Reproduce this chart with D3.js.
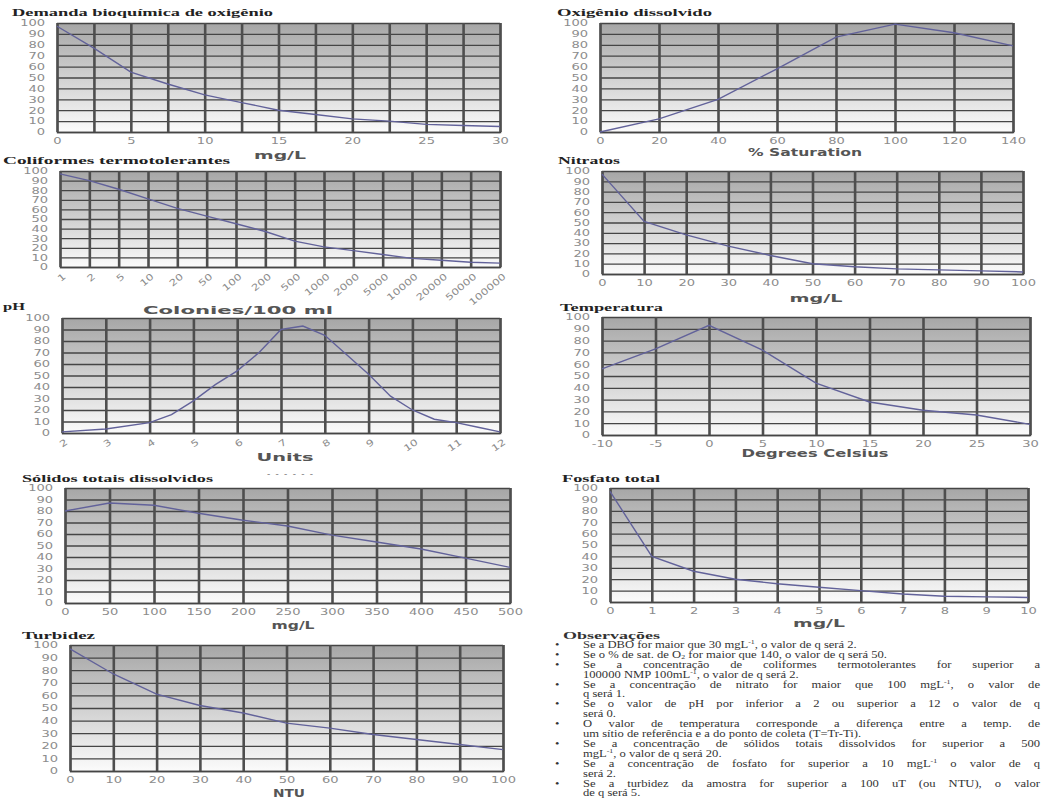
<!DOCTYPE html>
<html>
<head>
<meta charset="utf-8">
<script src="https://cdn.jsdelivr.net/npm/d3@7"></script>
<style>
  body { margin: 0; background: #fff; }
  svg { display: block; }
</style>
</head>
<body>
<svg id="chart" width="1042" height="802"></svg>
<script>
// q-value curves
const yTicks = [0, 10, 20, 30, 40, 50, 60, 70, 80, 90, 100];

const bodX = [0, 2.5, 5, 7.5, 10, 12.5, 15, 17.5, 20, 22.5, 25, 27.5, 30];
const bodQ = [97, 77, 55, 44, 34, 27, 20, 16, 12, 10, 7, 6, 5];
const bodLabels = [0, 5, 10, 15, 20, 25, 30];

const odX = [0, 20, 40, 60, 80, 100, 120, 140];
const odQ = [0, 12, 30, 58, 87, 99, 91, 79];

const coliCats = ['1', '2', '5', '10', '20', '50', '100', '200', '500', '1000', '2000', '5000', '10000', '20000', '50000', '100000'];
const coliQ = [97, 90, 81, 71, 61, 53, 45, 37, 27, 21, 17, 13, 9, 7, 5, 4];

const nitX = [0, 10, 20, 30, 40, 50, 60, 70, 80, 90, 100];
const nitQ = [97, 51, 38, 27, 18, 10, 7, 5, 4, 3, 2];

const phTicks = [2, 3, 4, 5, 6, 7, 8, 9, 10, 11, 12];
const phX = [2, 3, 4, 4.5, 5, 5.5, 6, 6.5, 7, 7.5, 8, 8.5, 9, 9.5, 10, 10.5, 11, 11.5, 12];
const phQ = [1, 3.5, 9, 16, 28, 42, 54, 70, 90, 93, 85, 68, 51, 32, 20, 12, 9, 5, 1];

const tempX = [-10, -5, 0, 5, 10, 15, 20, 25, 30];
const tempQ = [56, 73, 93, 72, 44, 28, 21, 17, 9];

const solX = [0, 50, 100, 150, 200, 250, 300, 350, 400, 450, 500];
const solQ = [80, 87, 85, 78, 72, 67, 59, 53, 47, 39, 31];

const fosX = [0, 1, 2, 3, 4, 5, 6, 7, 8, 9, 10];
const fosQ = [97, 40, 27, 20, 16, 13, 10, 7, 5, 4.5, 4];

const turX = [0, 10, 20, 30, 40, 50, 60, 70, 80, 90, 100];
const turQ = [97, 77, 61, 52, 46, 38, 34, 29, 25, 21, 17];

const obsLines = [
  { t: 'Se a DBO for maior que 30 mgL^-1^, o valor de q será 2.', b: true },
  { t: 'Se o % de sat. de O_2_ for maior que 140, o valor de q será 50.', b: true },
  { t: 'Se a concentração de coliformes termotolerantes for superior a', b: true, j: true },
  { t: '100000 NMP 100mL^-1^, o valor de q será 2.' },
  { t: 'Se a concentração de nitrato for maior que 100 mgL^-1^, o valor de', b: true, j: true },
  { t: 'q será 1.' },
  { t: 'Se o valor de pH por inferior a 2 ou superior a 12 o valor de q', b: true, j: true },
  { t: 'será 0.' },
  { t: 'O valor de temperatura corresponde a diferença entre a temp. de', b: true, j: true },
  { t: 'um sítio de referência e a do ponto de coleta (T=Tr-Ti).' },
  { t: 'Se a concentração de sólidos totais dissolvidos for superior a 500', b: true, j: true },
  { t: 'mgL^-1^, o valor de q será 20.' },
  { t: 'Se a concentração de fosfato for superior a 10 mgL^-1^ o valor de q', b: true, j: true },
  { t: 'será 2.' },
  { t: 'Se a turbidez da amostra for superior a 100 uT (ou NTU), o valor', b: true, j: true },
  { t: 'de q será 5.' }
];

const svg = d3.select('#chart');

// plot background: dark grey at top fading to white
const grad = svg.append('defs').append('linearGradient')
    .attr('id', 'bg')
    .attr('x1', 0).attr('y1', 0).attr('x2', 0).attr('y2', 1);
grad.append('stop').attr('offset', '0%').attr('stop-color', '#a6a6a6');
grad.append('stop').attr('offset', '100%').attr('stop-color', '#fbfbfb');

// the source image is stretched sideways, so the small texts are too
const stretch = 1.45;

let buildPanel = function(cfg) {
    const b = cfg.box;
    let x;
    if (cfg.cats) {
        x = d3.scalePoint().domain(cfg.cats).range([b.left, b.right]);
    } else {
        x = d3.scaleLinear().domain(d3.extent(cfg.grid)).range([b.left, b.right]);
    }
    const y = d3.scaleLinear().domain([0, 100]).range([b.bottom, b.top]);

    const g = svg.append('g');

    g.append('rect')
        .attr('x', b.left).attr('y', b.top)
        .attr('width', b.right - b.left).attr('height', b.bottom - b.top)
        .attr('fill', 'url(#bg)');

    // horizontal grid + y labels
    const ya = g.append('g')
        .attr('transform', `translate(${b.left},0)`)
        .call(d3.axisLeft(y).tickValues(yTicks).tickSize(-(b.right - b.left)));
    ya.select('.domain').remove();
    ya.selectAll('line').attr('stroke', '#454545').attr('stroke-width', 1.3);
    ya.selectAll('.tick text')
        .attr('x', 0)
        .attr('transform', `translate(-12,0) scale(${stretch},1)`);

    // vertical grid + x labels
    const labelSet = cfg.labels ? new Set(cfg.labels) : null;
    const xa = g.append('g')
        .attr('transform', `translate(0,${b.bottom})`)
        .call(d3.axisBottom(x)
            .tickValues(cfg.cats ? cfg.cats : cfg.grid)
            .tickSize(-(b.bottom - b.top))
            .tickPadding(6)
            .tickFormat(d => (!labelSet || labelSet.has(d)) ? d : ''));
    xa.select('.domain').attr('stroke', '#454545').attr('stroke-width', 1.5);
    xa.selectAll('line').attr('stroke', '#4e4e4e').attr('stroke-width', 2.6);

    if (cfg.rotate) {
        xa.selectAll('.tick text')
            .attr('text-anchor', 'end')
            .attr('x', 0).attr('y', 0).attr('dy', '0.35em')
            .attr('transform', `translate(4,8) rotate(${cfg.rotate}) scale(1.3,1)`);
    } else {
        xa.selectAll('.tick text')
            .attr('x', 0)
            .attr('transform', `scale(${stretch},1)`);
    }

    [ya, xa].forEach(a => a.selectAll('.tick text')
        .attr('fill', '#8c8c8c')
        .attr('font-family', 'DejaVu Sans, sans-serif')
        .attr('font-size', 9));

    // the curve
    const pts = cfg.qs.map((q, i) => [cfg.cats ? cfg.cats[i] : cfg.xs[i], q]);
    g.append('path')
        .datum(pts)
        .attr('fill', 'none')
        .attr('stroke', '#62629a')
        .attr('stroke-width', 1.4)
        .attr('d', d3.line().x(d => x(d[0])).y(d => y(d[1])));

    // title
    g.append('text')
        .attr('x', cfg.title.x).attr('y', cfg.title.y)
        .attr('font-family', 'Liberation Serif, serif')
        .attr('font-weight', 'bold')
        .attr('font-size', 11)
        .attr('fill', '#222')
        .attr('textLength', cfg.title.w)
        .attr('lengthAdjust', 'spacingAndGlyphs')
        .text(cfg.title.text);

    // axis title
    g.append('text')
        .attr('x', cfg.axis.x - cfg.axis.w / 2).attr('y', cfg.axis.y)
        .attr('font-family', 'DejaVu Sans, sans-serif')
        .attr('font-weight', 'bold')
        .attr('font-size', 10)
        .attr('fill', '#555')
        .attr('textLength', cfg.axis.w)
        .attr('lengthAdjust', 'spacingAndGlyphs')
        .text(cfg.axis.text);
}

buildPanel({ box: { left: 57, right: 500, top: 23, bottom: 132 }, grid: bodX, labels: bodLabels, xs: bodX, qs: bodQ,
    title: { text: 'Demanda bioquímica de oxigênio', x: 12, y: 16, w: 261 },
    axis: { text: 'mg/L', x: 280, y: 159, w: 52 } });

buildPanel({ box: { left: 600, right: 1013, top: 23, bottom: 132 }, grid: odX, xs: odX, qs: odQ,
    title: { text: 'Oxigênio dissolvido', x: 557, y: 16, w: 155 },
    axis: { text: '% Saturation', x: 805, y: 156, w: 114 } });

buildPanel({ box: { left: 60, right: 500, top: 171, bottom: 267 }, cats: coliCats, qs: coliQ, rotate: -40,
    title: { text: 'Coliformes termotolerantes', x: 3, y: 164, w: 227 },
    axis: { text: 'Colonies/100 ml', x: 238, y: 314, w: 190 } });

buildPanel({ box: { left: 602, right: 1023, top: 171, bottom: 274 }, grid: nitX, xs: nitX, qs: nitQ,
    title: { text: 'Nitratos', x: 558, y: 164, w: 62 },
    axis: { text: 'mg/L', x: 816, y: 302, w: 53 } });

buildPanel({ box: { left: 62, right: 500, top: 318, bottom: 433 }, grid: phTicks, xs: phX, qs: phQ, rotate: -35,
    title: { text: 'pH', x: 3, y: 310, w: 22 },
    axis: { text: 'Units', x: 285, y: 461, w: 57 } });

buildPanel({ box: { left: 602, right: 1030, top: 317, bottom: 435 }, grid: tempX, xs: tempX, qs: tempQ,
    title: { text: 'Temperatura', x: 560, y: 311, w: 103 },
    axis: { text: 'Degrees Celsius', x: 815, y: 457, w: 147 } });

buildPanel({ box: { left: 65, right: 510, top: 488, bottom: 603 }, grid: solX, xs: solX, qs: solQ,
    title: { text: 'Sólidos totais dissolvidos', x: 22, y: 482, w: 191 },
    axis: { text: 'mg/L', x: 293, y: 629, w: 43 } });

buildPanel({ box: { left: 610, right: 1028, top: 488, bottom: 602 }, grid: fosX, xs: fosX, qs: fosQ,
    title: { text: 'Fosfato total', x: 562, y: 482, w: 98 },
    axis: { text: 'mg/L', x: 819, y: 627, w: 52 } });

buildPanel({ box: { left: 70, right: 503, top: 645, bottom: 771 }, grid: turX, xs: turX, qs: turQ,
    title: { text: 'Turbidez', x: 22, y: 639, w: 73 },
    axis: { text: 'NTU', x: 289, y: 797, w: 32 } });

// stray dashes under the pH chart
svg.append('text')
    .attr('x', 290).attr('y', 477)
    .attr('text-anchor', 'middle')
    .attr('font-family', 'DejaVu Sans, sans-serif')
    .attr('font-size', 9)
    .attr('fill', '#777')
    .attr('textLength', 46)
    .text('------');

// notes block, drawn narrow then stretched sideways like the source
const obsScale = 1.2;
const obsLeft = 583, obsRight = 1040;
const obs = svg.append('g')
    .attr('transform', `translate(${obsLeft},0) scale(${obsScale},1)`)
    .attr('font-family', 'Liberation Serif, serif')
    .attr('fill', '#333');

obs.append('text')
    .attr('x', (563 - obsLeft) / obsScale).attr('y', 639)
    .attr('font-weight', 'bold')
    .attr('font-size', 10.5)
    .attr('textLength', 97 / obsScale)
    .attr('lengthAdjust', 'spacingAndGlyphs')
    .text('Observações');

let addRichText = function(sel, str) {
    // ^..^ superscript, _.._ subscript
    const parts = str.split(/(\^[^^]*\^|_[^_]*_)/);
    let back = 0;
    parts.forEach(p => {
        if (!p) return;
        if (p[0] === '^') {
            sel.append('tspan').attr('dy', -3.5 - back).attr('font-size', 6.5).text(p.slice(1, -1));
            back = -3.5;
        } else if (p[0] === '_') {
            sel.append('tspan').attr('dy', 1.5 - back).attr('font-size', 6.5).text(p.slice(1, -1));
            back = 1.5;
        } else {
            sel.append('tspan').attr('dy', -back).text(p);
            back = 0;
        }
    });
}

obsLines.forEach((line, i) => {
    const yy = 648 + i * 9.9;
    if (line.b) {
        obs.append('text')
            .attr('x', (555 - obsLeft) / obsScale).attr('y', yy)
            .attr('font-size', 10.5)
            .text('•');
    }
    const t = obs.append('text')
        .attr('x', 0).attr('y', yy)
        .attr('font-size', 10.5);
    addRichText(t, line.t);
    if (line.j) {
        // justify by widening the word gaps
        const target = (obsRight - obsLeft) / obsScale;
        const len = t.node().getComputedTextLength();
        const gaps = line.t.split(' ').length - 1;
        t.attr('word-spacing', (target - len) / gaps);
    }
});
</script>
</body>
</html>
